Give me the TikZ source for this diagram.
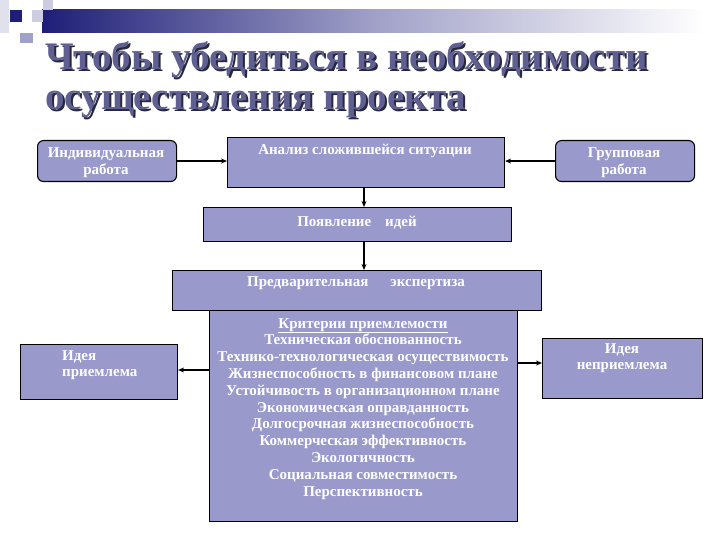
\documentclass[tikz,border=0pt]{standalone}
\usepackage{fontspec}
\setmainfont{Liberation Serif}
\usetikzlibrary{arrows.meta,calc}
\definecolor{boxfill}{RGB}{153,153,204}
\definecolor{navy}{RGB}{30,30,120}
\definecolor{titlecol}{RGB}{95,95,145}
\definecolor{titleshadow}{RGB}{40,40,60}
\definecolor{lightsq}{RGB}{205,205,225}
\definecolor{midsq}{RGB}{160,160,200}
\newcommand{\shadowed}[1]{\rlap{\raisebox{-2pt}{\hspace{2pt}\textcolor{titleshadow}{#1}}}\textcolor{titlecol}{#1}}
\tikzset{
  box/.style={draw=black, line width=1.1pt, fill=boxfill, anchor=north west, inner sep=0pt},
  rbox/.style={box, rounded corners=6pt},
  btext/.style={text=white, font=\bfseries\fontsize{15}{16.8}\selectfont, align=center, inner sep=0pt},
  conn/.style={line width=2pt, -{Stealth[length=6pt,width=5pt]}},
  ttext/.style={font=\bfseries\fontsize{39}{40}\selectfont, anchor=base west, inner sep=0pt}
}
\begin{document}
\begin{tikzpicture}[x=1pt,y=-1pt]
\useasboundingbox (0,0) rectangle (720,540);
\fill[white] (0,0) rectangle (720,540);
% decorative header
\shade[left color=navy, right color=white, middle color=midsq] (42,10) rectangle (705,33);
\fill[lightsq] (43,0) rectangle (53,10);
\fill[lightsq!60!white] (0,0) rectangle (9,33);
\fill[lightsq] (32,10) rectangle (43,22);
\fill[midsq] (20,33) rectangle (33,43);
\fill[navy] (10,10) rectangle (22,22);
% title
\node[ttext] (t1) at (45,70) {\shadowed{Чтобы убедиться в необходимости}};
\node[ttext] (t2) at (45,110) {\shadowed{осуществления проекта}};
% boxes
\node[rbox, minimum width=139pt, minimum height=41pt] (ind) at (37,140) {};
\node[btext] (indt) at (106,163) {Индивидуальная\\работа};
\node[box, minimum width=277pt, minimum height=50pt] (anal) at (227,137) {};
\node[btext, anchor=north] (analt) at (365,144) {Анализ сложившейся ситуации};
\node[rbox, minimum width=139pt, minimum height=41pt] (grp) at (555,140) {};
\node[btext] (grpt) at (624,163) {Групповая\\работа};
\node[box, minimum width=308pt, minimum height=34pt] (idea) at (203,207) {};
\node[btext] (ideat) at (357,223) {Появление\hspace{14pt}идей};
\node[box, minimum width=308pt, minimum height=211pt] (crit) at (209,310) {};
\node[box, minimum width=369pt, minimum height=40pt] (exp) at (172,270) {};
\node[btext, anchor=north] (expt) at (356,276) {Предварительная\hspace{22pt}экспертиза};
\node[btext, anchor=north] (critt) at (363,318) {\underline{Критерии приемлемости}\\Техническая обоснованность\\Технико-технологическая осуществимость\\Жизнеспособность в финансовом плане\\Устойчивость в организационном плане\\Экономическая оправданность\\Долгосрочная жизнеспособность\\Коммерческая эффективность\\Экологичность\\Социальная совместимость\\Перспективность};
\node[box, minimum width=157pt, minimum height=55pt] (pri) at (20,344) {};
\node[btext, align=left, anchor=north west] (prit) at (62,350) {Идея\\приемлема};
\node[box, minimum width=160pt, minimum height=60pt] (nepri) at (542,338) {};
\node[btext, anchor=north] (neprit) at (622,343) {Идея\\неприемлема};
% connectors
\coordinate (a1) at (364,187);
\coordinate (c1) at (517,363);
\coordinate (c2) at (209,370);
\draw[conn] (ind.east) -- (ind.east -| anal.west);
\draw[conn] (grp.west) -- (grp.west -| anal.east);
\draw[conn] (a1) -- (a1 |- idea.north);
\draw[conn] (a1 |- idea.south) -- (a1 |- exp.north);
\draw[conn] (c2) -- (c2 -| pri.east);
\draw[conn] (c1) -- (c1 -| nepri.west);
\end{tikzpicture}
\end{document}
